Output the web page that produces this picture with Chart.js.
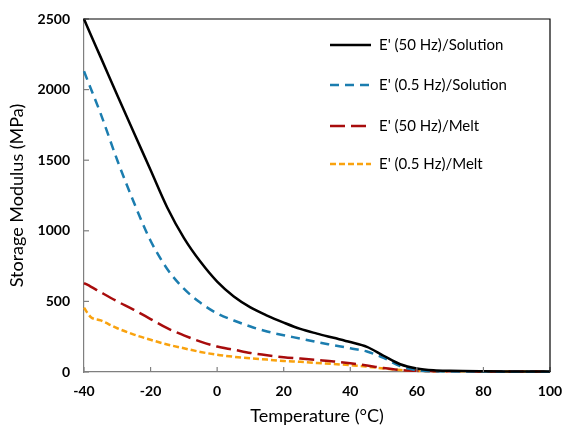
<!DOCTYPE html>
<html>
<head>
<meta charset="utf-8">
<script src="https://cdn.jsdelivr.net/npm/chart.js@4.4.1/dist/chart.umd.min.js"></script>
<style>
  html, body { margin: 0; padding: 0; background: #fff; }
  #wrap { width: 564px; height: 427px; }
</style>
</head>
<body>
<div id="wrap"><canvas id="modulusChart" width="564" height="427"></canvas></div>
<script>
// temperature (°C) shared by all four curves
const temps = [-40, -38, -35, -30, -25, -20, -15, -10, -5, 0, 5, 10, 15, 20, 25, 30, 35, 40, 45, 50, 55, 60, 65, 70, 80, 90, 100];

// storage modulus E' (MPa)
const solution50Hz = [2500, 2390, 2230, 1960, 1695, 1430, 1165, 950, 780, 640, 535, 458, 400, 350, 305, 272, 242, 212, 178, 115, 55, 25, 12, 8, 5, 4, 3];
const solution05Hz = [2130, 2010, 1830, 1500, 1200, 930, 730, 590, 490, 415, 365, 322, 287, 260, 237, 212, 190, 168, 145, 100, 42, 12, 5, 4, 3, 2, 2];
const melt50Hz = [630, 605, 565, 500, 440, 375, 310, 260, 215, 180, 158, 135, 118, 105, 95, 85, 75, 62, 46, 28, 14, 8, 6, 5, 4, 3, 3];
const melt05Hz = [455, 390, 365, 310, 265, 228, 195, 168, 142, 122, 108, 97, 88, 78, 72, 64, 57, 48, 38, 25, 14, 8, 6, 5, 4, 3, 3];

const seriesLabels = ["E' (50 Hz)/Solution", "E' (0.5 Hz)/Solution", "E' (50 Hz)/Melt", "E' (0.5 Hz)/Melt"];
const xTicks = [-40, -20, 0, 20, 40, 60, 80, 100];
const yTicks = [0, 500, 1000, 1500, 2000, 2500];

const toPoints = vals => vals.map((v, i) => ({ x: temps[i], y: v }));

const styles = [
    { color: "#000000", dash: [], width: 2.5 },
    { color: "#1b7daf", dash: [9, 6], width: 2.5 },
    { color: "#a80c0c", dash: [15, 6], width: 2.5 },
    { color: "#f9a20e", dash: [6, 3], width: 2.5 }
];
const allSeries = [solution50Hz, solution05Hz, melt50Hz, melt05Hz];

// inside tick marks, plot frame and legend drawn on top
const extras = {
    id: "extras",
    afterDraw(chart) {
        const c = chart.ctx, a = chart.chartArea;
        const xs = chart.scales.x, ys = chart.scales.y;
        c.save();
        c.strokeStyle = "#7f7f7f";
        c.lineWidth = 1.2;
        xTicks.forEach(t => {
            const px = xs.getPixelForValue(t);
            c.beginPath(); c.moveTo(px, a.bottom); c.lineTo(px, a.bottom - 5); c.stroke();
        });
        yTicks.forEach(t => {
            const py = ys.getPixelForValue(t);
            c.beginPath(); c.moveTo(a.left, py); c.lineTo(a.left + 5, py); c.stroke();
        });
        c.strokeStyle = "#000";
        c.lineWidth = 1.2;
        c.beginPath();
        c.moveTo(a.left, a.top); c.lineTo(a.right, a.top); c.lineTo(a.right, a.bottom);
        c.stroke();

        // legend
        const rows = [45, 85, 126, 164];
        c.font = "15px Lato";
        c.textBaseline = "middle";
        c.fillStyle = "#000";
        chart.data.datasets.forEach((ds, i) => {
            const y = rows[i];
            c.strokeStyle = ds.borderColor;
            c.lineWidth = ds.borderWidth;
            c.setLineDash(ds.borderDash);
            c.beginPath(); c.moveTo(330, y); c.lineTo(371, y); c.stroke();
            c.setLineDash([]);
            c.fillText(ds.label, 379, y);
        });
        c.restore();
    }
};

new Chart(document.getElementById("modulusChart").getContext("2d"), {
    type: "line",
    data: {
        datasets: allSeries.map((vals, i) => ({
            label: seriesLabels[i],
            data: toPoints(vals),
            borderColor: styles[i].color,
            borderDash: styles[i].dash,
            borderWidth: styles[i].width,
            pointRadius: 0,
            fill: false,
            cubicInterpolationMode: "monotone",
            clip: 3
        }))
    },
    options: {
        responsive: false,
        animation: false,
        layout: { padding: { left: 0, top: 19, right: 14, bottom: 0 } },
        plugins: { legend: { display: false }, tooltip: { enabled: false } },
        scales: {
            x: {
                type: "linear",
                min: -40,
                max: 100,
                afterFit(s) { s.height = 55; s.paddingLeft = 0; s.paddingRight = 0; },
                afterBuildTicks(s) { s.ticks = xTicks.map(v => ({ value: v })); },
                grid: { drawOnChartArea: false, drawTicks: false },
                border: { color: "#7f7f7f", width: 1.2 },
                ticks: { padding: 11, color: "#000", font: { family: "Lato", size: 14, weight: "bold" }, callback: v => String(v) },
                title: {
                    display: true,
                    text: "Temperature (°C)",
                    color: "#000",
                    font: { family: "Lato", size: 18 },
                    padding: { top: 0, bottom: 0 }
                }
            },
            y: {
                min: 0,
                max: 2500,
                afterFit(s) { s.width = 84; s.paddingTop = 0; s.paddingBottom = 0; },
                afterBuildTicks(s) { s.ticks = yTicks.map(v => ({ value: v })); },
                grid: { drawOnChartArea: false, drawTicks: false },
                border: { color: "#7f7f7f", width: 1.2 },
                ticks: { padding: 14, color: "#000", font: { family: "Lato", size: 14, weight: "bold" }, callback: v => String(v) },
                title: {
                    display: true,
                    text: "Storage Modulus (MPa)",
                    color: "#000",
                    font: { family: "Lato", size: 18 },
                    padding: { top: 6, bottom: 0 }
                }
            }
        }
    },
    plugins: [extras]
});
</script>
</body>
</html>
